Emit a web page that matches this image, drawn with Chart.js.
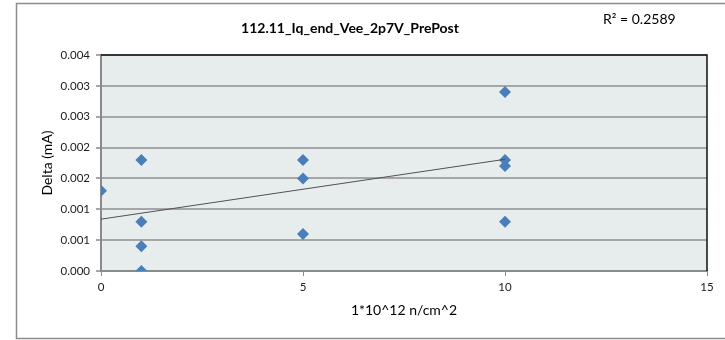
<!DOCTYPE html>
<html lang="en">
<head>
    <meta charset="UTF-8">
    <title>112.11_Iq_end_Vee_2p7V_PrePost</title>
    <script src="https://cdn.jsdelivr.net/npm/chart.js"></script>
    <style>
        body { margin: 0; background: #fff; }
        canvas { display: block; }
    </style>
</head>
<body>
    <canvas id="chart" width="725" height="340"></canvas>
    <script>
        // fluence (1e12 n/cm^2) and delta (mA)
        const fluence = [0, 1, 1, 1, 1, 5, 5, 5, 10, 10, 10, 10];
        const delta = [0.0013, 0.0018, 0.0008, 0.0004, 0.0, 0.0018, 0.0015, 0.0006, 0.0029, 0.0018, 0.0017, 0.0008];

        // linear trendline end points
        const trendX = [0, 10];
        const trendY = [0.00084, 0.00181];

        const yTickLabels = ['0.000', '0.001', '0.001', '0.002', '0.002', '0.003', '0.003', '0.004'];
        const chartTitle = '112.11_Iq_end_Vee_2p7V_PrePost';
        const rSquared = 'R\u00B2 = 0.2589';

        const FONT = 'Lato, "Open Sans", sans-serif';

        const frame = {
            id: 'frame',
            beforeDraw(chart) {
                const { ctx, chartArea: a } = chart;
                ctx.save();
                ctx.strokeStyle = '#8c8c8c';
                ctx.lineWidth = 1.5;
                ctx.strokeRect(16.5, 3.5, 740, 335);
                ctx.fillStyle = '#e7eded';
                ctx.fillRect(a.left, a.top, a.right - a.left, a.bottom - a.top);
                ctx.restore();
            },
            afterDraw(chart) {
                const { ctx, chartArea: a } = chart;
                ctx.save();
                // dark top and right border of plot area
                ctx.strokeStyle = '#111';
                ctx.lineWidth = 1.5;
                ctx.beginPath();
                ctx.moveTo(a.left, a.top);
                ctx.lineTo(a.right, a.top);
                ctx.lineTo(a.right, a.bottom);
                ctx.stroke();
                // title + R^2 label
                ctx.fillStyle = '#000';
                ctx.textAlign = 'center';
                ctx.textBaseline = 'middle';
                ctx.font = 'bold 14px ' + FONT;
                ctx.fillText(chartTitle, 350, 28);
                ctx.textAlign = 'left';
                ctx.font = '14px ' + FONT;
                ctx.fillText(rSquared, 603, 19);
                ctx.restore();
            }
        };

        const ctx = document.getElementById('chart').getContext('2d');
        new Chart(ctx, {
            type: 'scatter',
            data: {
                datasets: [
                    {
                        type: 'line',
                        data: trendX.map((x, i) => ({ x: x, y: trendY[i] })),
                        borderColor: '#505050',
                        borderWidth: 1,
                        pointRadius: 0,
                        fill: false,
                        order: 0
                    },
                    {
                        data: fluence.map((x, i) => ({ x: x, y: delta[i] })),
                        pointStyle: 'rectRot',
                        pointRadius: 6,
                        pointBackgroundColor: '#4a7ebb',
                        pointBorderColor: '#4a7ebb',
                        pointBorderWidth: 0,
                        order: 1
                    }
                ]
            },
            options: {
                responsive: false,
                animation: false,
                devicePixelRatio: 1,
                layout: { padding: { left: 39, right: 18, top: 55, bottom: 21 } },
                plugins: {
                    legend: { display: false },
                    tooltip: { enabled: false }
                },
                scales: {
                    x: {
                        type: 'linear',
                        min: 0,
                        max: 15,
                        afterFit: s => { s.height = 48; },
                        ticks: {
                            stepSize: 5,
                            padding: 4,
                            color: '#1a1a1a',
                            font: { family: FONT, size: 11.5 }
                        },
                        grid: { drawOnChartArea: false, color: '#8a8a8a', tickLength: 5 },
                        border: { color: '#8a8a8a', width: 2 },
                        title: {
                            display: true,
                            text: '1*10^12 n/cm^2',
                            color: '#000',
                            padding: 0,
                            font: { family: FONT, size: 14 }
                        }
                    },
                    y: {
                        min: 0,
                        max: 0.0035,
                        afterFit: s => { s.width = 62; },
                        ticks: {
                            stepSize: 0.0005,
                            padding: 6,
                            color: '#1a1a1a',
                            font: { family: FONT, size: 11.5 },
                            callback: (v, i) => yTickLabels[i]
                        },
                        grid: { color: '#a6a6a6', lineWidth: 2, tickLength: 5 },
                        border: { color: '#8a8a8a', width: 2 },
                        title: {
                            display: true,
                            text: 'Delta (mA)',
                            color: '#000',
                            padding: 0,
                            font: { family: FONT, size: 14 }
                        }
                    }
                }
            },
            plugins: [frame]
        });
    </script>
</body>
</html>
